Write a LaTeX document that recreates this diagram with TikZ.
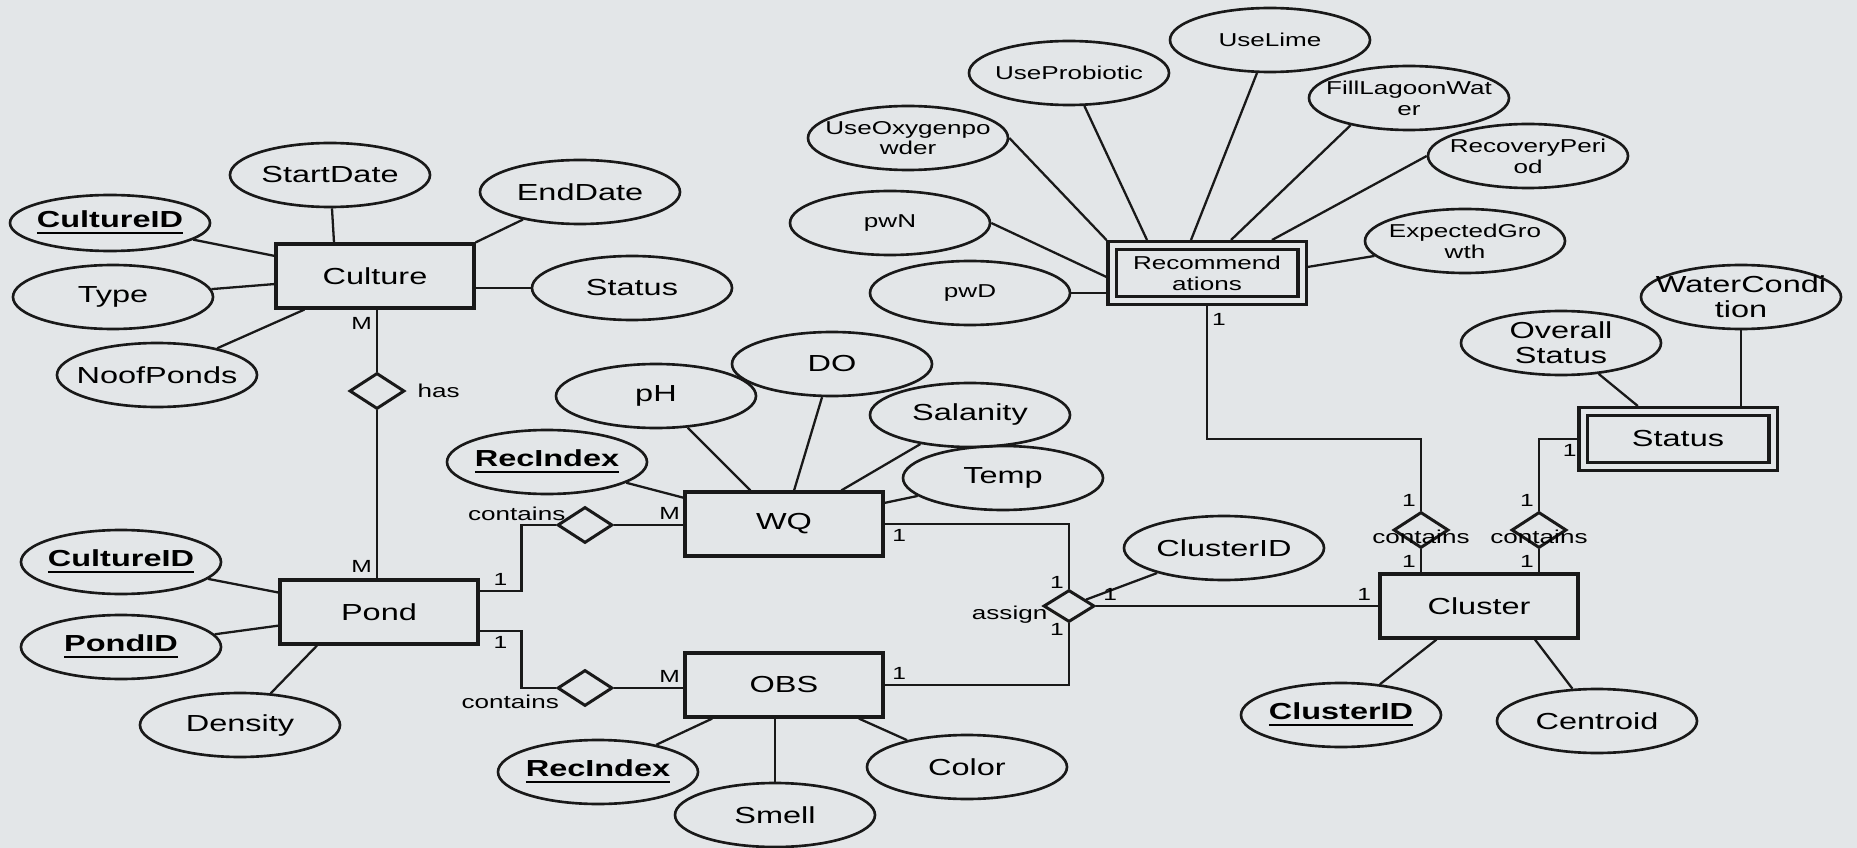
\documentclass[tikz,border=0pt]{standalone}
\usepackage{fontspec}
\setmainfont[FakeStretch=1.4]{Liberation Sans}
\usetikzlibrary{shapes.geometric}

\newcommand{\keyattr}[1]{\underline{\textbf{#1}}}

\begin{document}
\begin{tikzpicture}[x=0.1mm, y=-0.1mm]
  \definecolor{bgcol}{RGB}{227,230,232}
  \colorlet{linecol}{black!90}

  \tikzset{
    ent/.style={
      rectangle, draw=linecol, line width=0.9pt,
      minimum width=19.8mm, minimum height=6.4mm, inner sep=0pt,
      font=\fontsize{6.6}{7.1}\selectfont
    },
    weak/.style={
      ent, double=bgcol, double distance=0.5mm, align=center,
      minimum width=19mm, minimum height=5.5mm, outer sep=0.55mm
    },
    oval/.style={
      ellipse, draw=linecol, line width=0.75pt,
      minimum width=20mm, minimum height=6.4mm, inner sep=0pt
    },
    attr/.style={oval, label={[atxt]center:#1}},
    rattr/.style={oval, label={[rtxt]center:#1}},
    atxt/.style={inner sep=0pt, align=center, font=\fontsize{6.6}{7.1}\selectfont},
    rtxt/.style={inner sep=0pt, align=center, font=\fontsize{5.3}{5.9}\selectfont},
    rel/.style={
      diamond, draw=linecol, line width=0.85pt,
      minimum width=5.5mm, minimum height=3.6mm, inner sep=0pt
    },
    lbl/.style={inner sep=0pt, font=\fontsize{5.3}{6}\selectfont},
    card/.style={inner sep=0.4mm, font=\fontsize{5}{6}\selectfont},
    conn/.style={draw=linecol, line width=0.65pt}
  }

  \fill[bgcol] (0,0) rectangle (1857,848);
  \useasboundingbox (0,0) rectangle (1857,848);

  % entities
  \node[ent] (culture) at (375,276) {Culture};
  \node[ent] (pond) at (379,612) {Pond};
  \node[ent] (wq) at (784,524) {WQ};
  \node[ent] (obs) at (784,685) {OBS};
  \node[ent] (cluster) at (1479,606) {Cluster};
  \node[weak, font=\fontsize{5.3}{5.9}\selectfont] (recomm) at (1207,273) {Recommend\\ations};
  \node[weak] (status) at (1678,439) {Status};

  % relationships
  \node[rel, label={[lbl, xshift=1.1mm]right:has}] (has) at (377,391) {};
  \node[rel, label={[lbl, xshift=1mm, yshift=1.1mm]left:contains}] (cont1) at (585,525) {};
  \node[rel, label={[lbl, xshift=0.35mm, yshift=-1.4mm]left:contains}] (cont2) at (585,688) {};
  \node[rel, minimum width=5.1mm, minimum height=3.2mm,
    label={[lbl, xshift=0.6mm, yshift=-0.9mm]left:assign}] (assign) at (1069,606) {};
  \node[rel, label={[lbl, yshift=-0.7mm]center:contains}] (cont3) at (1421,530) {};
  \node[rel, label={[lbl, yshift=-0.7mm]center:contains}] (cont4) at (1539,530) {};

  % attributes
  \node[attr=\keyattr{CultureID}, minimum height=5.6mm] (cid) at (110,223) {};
  \node[attr=StartDate] (start) at (330,175) {};
  \node[attr=EndDate] (enddate) at (580,192) {};
  \node[attr=Type] (type) at (113,297) {};
  \node[attr=Status] (cstat) at (632,288) {};
  \node[attr=NoofPonds] (nponds) at (157,375) {};

  \node[attr=\keyattr{CultureID}] (pcid) at (121,562) {};
  \node[attr=\keyattr{PondID}] (pondid) at (121,647) {};
  \node[attr=Density] (density) at (240,725) {};

  \node[attr=\keyattr{RecIndex}] (wrec) at (547,462) {};
  \node[attr=pH] (ph) at (656,396) {};
  \node[attr=DO] (dox) at (832,364) {};
  \node[attr=Salanity] (sal) at (970,415) {};
  \node[attr=Temp] (temp) at (1003,478) {};

  \node[attr=\keyattr{RecIndex}] (orec) at (598,772) {};
  \node[attr=Smell] (smell) at (775,815) {};
  \node[attr=Color] (colr) at (967,767) {};

  \node[attr=ClusterID] (acid) at (1224,548) {};
  \node[attr=\keyattr{ClusterID}] (kcid) at (1341,715) {};
  \node[attr=Centroid] (centroid) at (1597,721) {};

  \node[attr={Overall\\Status}] (overall) at (1561,343) {};
  \node[attr={WaterCondi\\tion}] (water) at (1741,297) {};

  \node[rattr=pwD] (pwd) at (970,293) {};
  \node[rattr=pwN] (pwn) at (890,223) {};
  \node[rattr={UseOxygenpo\\wder}] (useoxy) at (908,138) {};
  \node[rattr=UseProbiotic] (useprob) at (1069,73) {};
  \node[rattr=UseLime] (uselime) at (1270,40) {};
  \node[rattr={FillLagoonWat\\er}] (fill) at (1409,98) {};
  \node[rattr={RecoveryPeri\\od}] (recov) at (1528,156) {};
  \node[rattr={ExpectedGro\\wth}] (expgrow) at (1465,241) {};

  % attribute links
  \draw[conn] (cid) -- (culture);
  \draw[conn] (start) -- ([xshift=-4.1mm]culture.north);
  \draw[conn] (enddate) -- (culture.north east);
  \draw[conn] (type) -- (culture);
  \draw[conn] (cstat) -- (cstat -| culture.east);
  \draw[conn] (nponds) -- ([xshift=3mm]culture.south west);

  \draw[conn] (pcid) -- (pond);
  \draw[conn] (pondid) -- (pond);
  \draw[conn] (density) -- ([xshift=-6.2mm]pond.south);

  \draw[conn] (wrec) -- (wq);
  \draw[conn] (ph) -- (wq);
  \draw[conn] (dox) -- (wq);
  \draw[conn] (sal) -- (wq);
  \draw[conn] (temp) -- (wq);

  \draw[conn] (orec) -- (obs);
  \draw[conn] (smell) -- (smell |- obs.south);
  \draw[conn] (colr) -- (obs);

  \draw[conn] (kcid) -- (cluster);
  \draw[conn] (centroid) -- ([xshift=5.6mm]cluster.south);
  \draw[conn] (acid) -- (assign);

  \draw[conn] (overall) -- (status);
  \draw[conn] (water) -- (water |- status.north);

  \draw[conn] (pwd) -- (pwd -| recomm.west);
  \draw[conn] (pwn.east) -- ([yshift=-0.4mm]recomm.west);
  \draw[conn] (useoxy.east) -- (recomm.north west);
  \draw[conn] (useprob) -- ([xshift=-6mm]recomm.north);
  \draw[conn] (uselime) -- ([xshift=-1.6mm]recomm.north);
  \draw[conn] (fill.205) -- ([xshift=2.4mm]recomm.north);
  \draw[conn] (recov.west) -- ([xshift=6.5mm]recomm.north);
  \draw[conn] (expgrow) -- ([yshift=0.6mm]recomm.east);

  % relationship links
  \draw[conn] (has.north |- culture.south) -- node[card, pos=0.22, left] {M} (has.north);
  \draw[conn] (has.south) -- node[card, pos=0.93, left] {M} (has.south |- pond.north);

  \draw[conn] ([yshift=2.1mm]pond.east) -- node[card, above] {1} ++(42,0) |- (cont1.west);
  \draw[conn] ([yshift=-1.9mm]pond.east) -- node[card, below] {1} ++(42,0) |- (cont2.west);
  \draw[conn] (cont1.east) -- node[card, pos=0.8, above] {M} (cont1.east -| wq.west);
  \draw[conn] (cont2.east) -- node[card, pos=0.8, above] {M} (cont2.east -| obs.west);

  \draw[conn] (wq.east) -| node[card, pos=0.04, below] {1} node[card, pos=0.95, left] {1} (assign.north);
  \draw[conn] (obs.east) -| node[card, pos=0.04, above] {1} node[card, pos=0.95, left] {1} (assign.south);
  \draw[conn] (assign.east) -- node[card, pos=0.05, above] {1} node[card, pos=0.95, above] {1} (cluster.west);

  \draw[conn] (cont3.south) -- node[card, left] {1} (cont3.south |- cluster.north);
  \draw[conn] (cont4.south) -- node[card, left] {1} (cont4.south |- cluster.north);
  \draw[conn] (cont3.north) |- node[card, pos=0.07, left] {1} (recomm.south |- status.west)
    -- node[card, pos=0.9, right] {1} (recomm.south);
  \draw[conn] (cont4.north) |- node[card, pos=0.07, left] {1} node[card, pos=0.9, below] {1} (status.west);
\end{tikzpicture}
\end{document}
